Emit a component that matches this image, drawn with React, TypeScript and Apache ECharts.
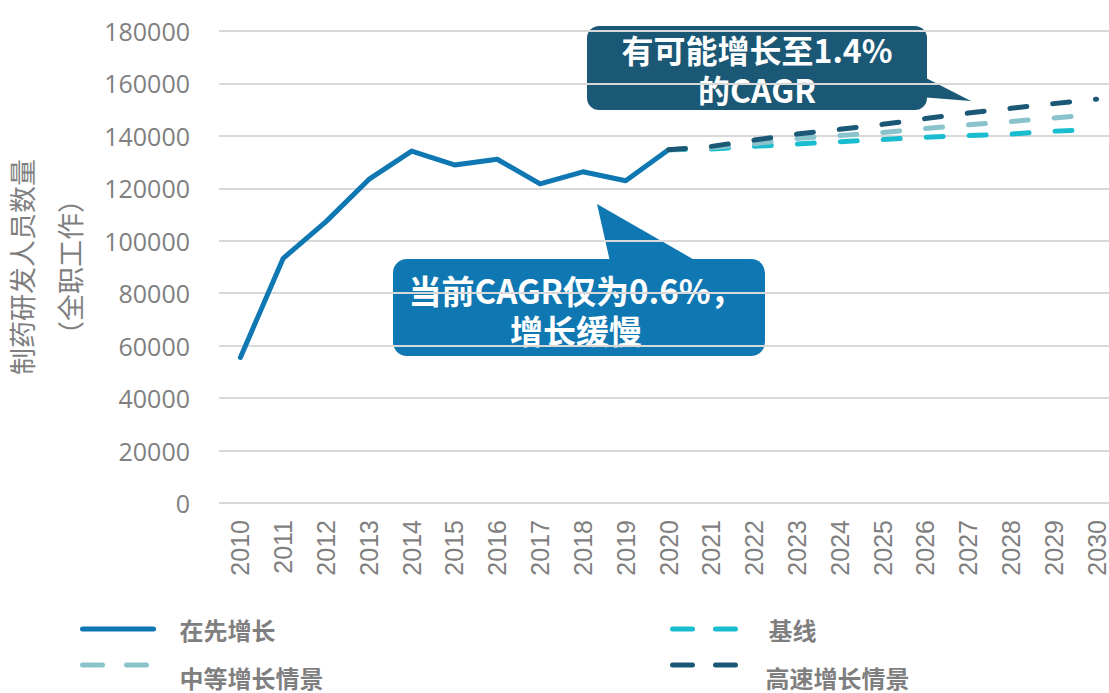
import React, { useEffect, useRef } from "react";
import * as echarts from "echarts";

const years = [
  "2010", "2011", "2012", "2013", "2014", "2015", "2016", "2017", "2018", "2019", "2020",
  "2021", "2022", "2023", "2024", "2025", "2026", "2027", "2028", "2029", "2030",
];

// 在先增长 (historical)
const historical = [
  55500, 93300, 107300, 123400, 134200, 128900, 131100, 121700, 126300, 122900, 134700,
  null, null, null, null, null, null, null, null, null, null,
];

const pad = [null, null, null, null, null, null, null, null, null, null];

// 基线
const baseline = [
  ...pad, 134700, 135000, 136000, 136900, 137800, 138600, 139500, 140100, 140700, 141800, 142400,
];
// 中等增长情景
const medium = [
  ...pad, 134700, 135600, 137000, 139000, 140100, 141300, 142800, 144200, 145500, 146800, 148200,
];
// 高速增长情景
const high = [
  ...pad, 134700, 136000, 138400, 140700, 142500, 144400, 146600, 148700, 150500, 152300, 154000,
];

const yMin = 0;
const yMax = 180000;
const yInterval = 20000;

const seriesNames = ["在先增长", "基线", "中等增长情景", "高速增长情景"];
const calloutTop = ["有可能增长至1.4%", "的CAGR"];
const calloutBottom = ["当前CAGR仅为0.6%，", "增长缓慢"];

const C_MAIN = "#0f77b2";
const C_BASE = "#1abdd0";
const C_MED = "#8ac3cc";
const C_HIGH = "#1a5876";
const GREY = "#7f7f7f";
const CJK = "'Noto Sans CJK SC', 'Noto Sans', sans-serif";

export default function App() {
  const ref = useRef<HTMLDivElement>(null);

  useEffect(() => {
    if (!ref.current) return;
    const chart = echarts.init(ref.current, undefined, { renderer: "svg" });

    const legendText = (padding: number[], lineHeight = 30) => ({
      color: GREY,
      fontSize: 24,
      fontWeight: "bold",
      fontFamily: CJK,
      lineHeight,
      padding,
    });
    const legendBase = {
      orient: "horizontal",
      padding: 0,
      itemHeight: 6,
      selectedMode: false,
      itemStyle: { opacity: 0 },
    };
    const lowered = (name: string) => "\n" + name;

    const calloutText = {
      fill: "#ffffff",
      fontSize: 32,
      fontWeight: "bold",
      fontFamily: CJK,
      align: "center",
      verticalAlign: "middle",
      lineHeight: 40,
    };

    const option: any = {
      animation: false,
      backgroundColor: "#ffffff",
      grid: {
        left: 219,
        right: 2,
        top: 31,
        bottom: 190,
        containLabel: false,
        outerBoundsMode: "none",
      },
      xAxis: {
        type: "category",
        data: years,
        boundaryGap: true,
        axisLine: { show: false },
        axisTick: { show: false },
        axisLabel: {
          rotate: 90,
          margin: 17,
          color: GREY,
          fontSize: 25,
          fontFamily: "'Liberation Sans', Arial, sans-serif",
          interval: 0,
        },
        splitLine: { show: false },
      },
      yAxis: {
        type: "value",
        min: yMin,
        max: yMax,
        interval: yInterval,
        name: "制药研发人员数量\n（全职工作）",
        nameLocation: "middle",
        nameRotate: 90,
        nameGap: 117,
        nameTextStyle: { fontSize: 27, color: GREY, fontFamily: CJK, lineHeight: 48 },
        axisLine: { show: false },
        axisTick: { show: false },
        axisLabel: {
          margin: 29,
          color: GREY,
          fontSize: 25,
          fontFamily: "'Open Sans', sans-serif",
          formatter: (v: number) => String(v),
        },
        splitLine: { lineStyle: { color: "#d9d9d9", width: 2 } },
      },
      legend: [
        {
          ...legendBase,
          data: [seriesNames[0]],
          left: 80,
          top: 614,
          itemWidth: 71,
          lineStyle: { width: 5, cap: "round" },
          textStyle: legendText([0, 0, 0, 21]),
        },
        {
          ...legendBase,
          data: [seriesNames[2]],
          left: 80,
          top: 641,
          itemWidth: 64,
          formatter: lowered,
          lineStyle: { width: 5, type: [20, 24], cap: "round" },
          textStyle: legendText([0, 0, 0, 28], 24),
        },
        {
          ...legendBase,
          data: [seriesNames[1]],
          left: 670,
          top: 612,
          itemWidth: 63,
          lineStyle: { width: 5, type: [20, 23], cap: "round" },
          textStyle: legendText([0, 0, 4, 28]),
        },
        {
          ...legendBase,
          data: [seriesNames[3]],
          left: 670,
          top: 641,
          itemWidth: 63,
          formatter: lowered,
          lineStyle: { width: 5, type: [20, 23], cap: "round" },
          textStyle: legendText([0, 0, 0, 25], 24),
        },
      ],
      series: [
        {
          name: seriesNames[0],
          type: "line",
          data: historical,
          symbol: "none",
          showSymbol: false,
          lineStyle: { color: C_MAIN, width: 5, cap: "round", join: "round" },
          itemStyle: { color: C_MAIN },
        },
        {
          name: seriesNames[1],
          type: "line",
          data: baseline,
          symbol: "none",
          showSymbol: false,
          lineStyle: { color: C_BASE, width: 5, type: [17, 26], cap: "round" },
          itemStyle: { color: C_BASE },
        },
        {
          name: seriesNames[2],
          type: "line",
          data: medium,
          symbol: "none",
          showSymbol: false,
          lineStyle: { color: C_MED, width: 5, type: [17, 26], cap: "round" },
          itemStyle: { color: C_MED },
        },
        {
          name: seriesNames[3],
          type: "line",
          data: high,
          symbol: "none",
          showSymbol: false,
          lineStyle: { color: C_HIGH, width: 5, type: [17, 26], cap: "round" },
          itemStyle: { color: C_HIGH },
        },
      ],
      graphic: [
        {
          type: "group",
          z: 100,
          children: [
            {
              type: "polygon",
              shape: { points: [[920, 75], [971, 101], [920, 97]] },
              style: { fill: C_HIGH },
            },
            {
              type: "rect",
              shape: { x: 587, y: 26, width: 340, height: 84, r: 12 },
              style: { fill: C_HIGH },
            },
            {
              type: "text",
              x: 757,
              y: 69,
              style: { ...calloutText, text: calloutTop.join("\n") },
            },
            {
              type: "polygon",
              shape: { points: [[597, 204], [611, 266], [705, 266]] },
              style: { fill: C_MAIN },
            },
            {
              type: "rect",
              shape: { x: 393, y: 259, width: 372, height: 97, r: 14 },
              style: { fill: C_MAIN },
            },
            {
              type: "text",
              x: 576,
              y: 310,
              style: { ...calloutText, fontSize: 33, text: calloutBottom.join("\n") },
            },
          ],
        },
      ],
    };

    chart.setOption(option);
    return () => chart.dispose();
  }, []);

  return (
    <div style={{ position: "fixed", left: 0, top: 0, width: 1109, height: 693, overflow: "hidden", background: "#fff" }}>
      <div ref={ref} style={{ position: "absolute", left: 0, top: 0, width: 1120, height: 693 }} />
    </div>
  );
}
